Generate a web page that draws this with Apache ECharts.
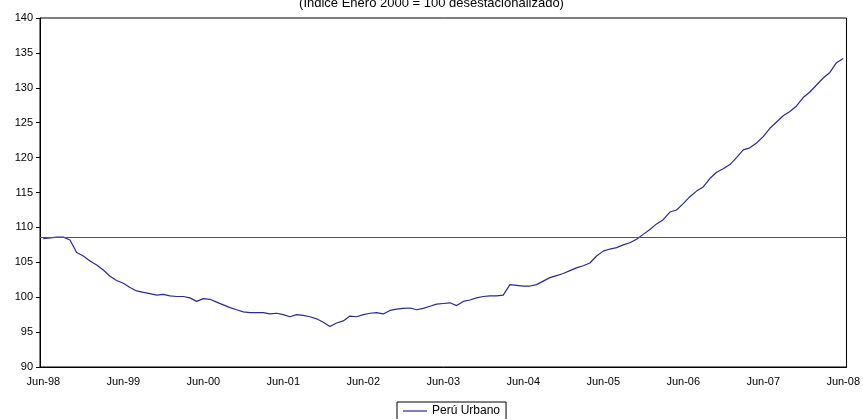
<!DOCTYPE html>
<html>
<head>
<meta charset="utf-8">
<script src="https://cdn.jsdelivr.net/npm/echarts@6/dist/echarts.min.js"></script>
<style>
html,body{margin:0;padding:0;background:#fff;}
#c{width:863px;height:419px;}
</style>
</head>
<body>
<div id="c"></div>
<script>
const titleText = "(Indice Enero 2000 = 100 desestacionalizado)";
const seriesName = "Perú Urbano";
const monthNames = ["Jan","Feb","Mar","Apr","May","Jun","Jul","Aug","Sep","Oct","Nov","Dec"];
const startYear = 1998, startMonth = 5, monthCount = 121;
const yTicks = {min: 90, max: 140, interval: 5};
const referenceLevel = 108.6;
const peruUrbano = [
 108.4,108.5,108.6,108.6,108.2,106.4,105.9,105.2,104.6,103.9,103.0,102.4,
 102.0,101.4,100.9,100.7,100.5,100.3,100.4,100.2,100.1,100.1,99.9,99.4,
 99.8,99.7,99.3,98.9,98.5,98.2,97.9,97.8,97.8,97.8,97.6,97.7,
 97.5,97.2,97.5,97.4,97.2,96.9,96.4,95.8,96.3,96.6,97.3,97.2,
 97.5,97.7,97.8,97.6,98.1,98.3,98.4,98.45,98.2,98.4,98.7,99.0,
 99.1,99.2,98.8,99.4,99.6,99.9,100.1,100.2,100.2,100.3,101.8,101.7,
 101.6,101.6,101.8,102.3,102.8,103.1,103.4,103.8,104.2,104.5,104.9,105.9,
 106.6,106.9,107.1,107.5,107.8,108.3,109.0,109.7,110.5,111.1,112.2,112.5,
 113.4,114.4,115.2,115.8,117.0,117.9,118.4,119.0,120.0,121.1,121.4,122.1,
 123.0,124.2,125.1,126.0,126.6,127.4,128.6,129.4,130.4,131.4,132.2,133.6,
 134.2
];
const categories = [];
for (let k = 0; k < monthCount; k++) {
  const m = (startMonth + k) % 12;
  const y = startYear + Math.floor((startMonth + k) / 12);
  categories.push(monthNames[m] + "-" + String(y % 100).padStart(2, "0"));
}

const chart = echarts.init(document.getElementById('c'));
const font = "Liberation Sans, Arial, sans-serif";
chart.setOption({
  animation: false,
  backgroundColor: '#fff',
  textStyle: {fontFamily: font},
  title: {
    text: titleText, left: 'center', top: -8,
    textStyle: {fontSize: 13, fontWeight: 'normal', color: '#000', fontFamily: font}
  },
  grid: {left: 40, right: 14, top: 18, bottom: 52, show: true, borderColor: '#000', borderWidth: 1, backgroundColor: 'transparent'},
  legend: {
    data: [{name: seriesName, icon: 'rect'}],
    left: 397, top: 402, itemWidth: 24, itemHeight: 1.2, itemGap: 4,
    borderColor: '#000', borderWidth: 1, padding: [3, 6, 3, 6],
    textStyle: {fontSize: 12, color: '#000', fontFamily: font}
  },
  xAxis: {
    type: 'category', data: categories, boundaryGap: true,
    axisLine: {lineStyle: {color: '#000', width: 1}},
    axisTick: {interval: 0, length: 4, lineStyle: {color: '#000'}},
    axisLabel: {interval: 11, fontSize: 11, color: '#000', margin: 9, fontFamily: font},
    splitLine: {show: false}
  },
  yAxis: {
    type: 'value', min: yTicks.min, max: yTicks.max, interval: yTicks.interval,
    axisLine: {show: true, lineStyle: {color: '#000', width: 1}},
    axisTick: {show: true, length: 4, lineStyle: {color: '#000'}},
    axisLabel: {fontSize: 11, color: '#000', margin: 7, fontFamily: font},
    splitLine: {show: false}
  },
  series: [{
    name: seriesName, type: 'line', data: peruUrbano, showSymbol: false, symbol: 'none',
    lineStyle: {color: '#2a2a96', width: 1.2}, itemStyle: {color: '#2a2a96'},
    markLine: {
      silent: true, symbol: 'none', label: {show: false},
      lineStyle: {color: '#555', width: 1.2, type: 'solid'},
      data: [{yAxis: referenceLevel}]
    }
  }]
});
</script>
</body>
</html>
